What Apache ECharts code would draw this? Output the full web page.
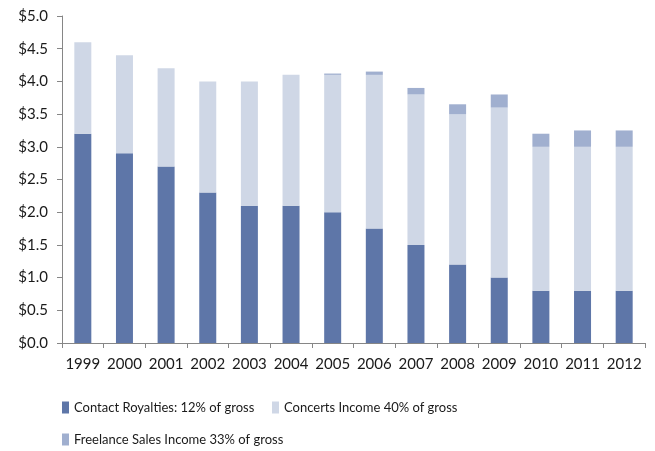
<!DOCTYPE html>
<html><head><meta charset="utf-8">
<script src="https://cdn.jsdelivr.net/npm/echarts@6/dist/echarts.min.js"></script>
<style>html,body{margin:0;padding:0;background:#fff}#c{width:655px;height:451px}</style>
</head><body><div id="c"></div>
<script>
const years = ['1999','2000','2001','2002','2003','2004','2005','2006','2007','2008','2009','2010','2011','2012'];
const royalties = [3.2, 2.9, 2.7, 2.3, 2.1, 2.1, 2.0, 1.75, 1.5, 1.2, 1.0, 0.8, 0.8, 0.8];
const concerts = [1.4, 1.5, 1.5, 1.7, 1.9, 2.0, 2.1, 2.35, 2.3, 2.3, 2.6, 2.2, 2.2, 2.2];
const freelance = [0, 0, 0, 0, 0, 0, 0.02, 0.05, 0.1, 0.15, 0.2, 0.2, 0.25, 0.25];
const names = ['Contact Royalties: 12% of gross', 'Concerts Income 40% of gross', 'Freelance Sales Income 33% of gross'];
const yTicks = [0, 0.5, 1, 1.5, 2, 2.5, 3, 3.5, 4, 4.5, 5];

const font = 'Lato, sans-serif';
const chart = echarts.init(document.getElementById('c'));
const legendText = {fontFamily: font, fontSize: 13, color: '#1a1a1a'};
const legendBase = {icon: 'rect', itemWidth: 7, itemHeight: 12, itemStyle: {borderWidth: 0}, textStyle: legendText, padding: 0};
chart.setOption({
  animation: false,
  grid: {left: 62, right: 10, top: 16, bottom: 108, containLabel: false},
  legend: [
    Object.assign({data: [names[0]], left: 62, top: 401}, legendBase),
    Object.assign({data: [names[1]], left: 272, top: 401}, legendBase),
    Object.assign({data: [names[2]], left: 62, top: 433}, legendBase)
  ],
  xAxis: {
    type: 'category', data: years,
    axisLine: {lineStyle: {color: '#868686'}},
    axisTick: {show: true, length: 5, interval: 0, lineStyle: {color: '#868686'}},
    axisLabel: {interval: 0, fontFamily: font, fontSize: 15, color: '#1a1a1a', margin: 14}
  },
  yAxis: {
    type: 'value', min: 0, max: 5, interval: 0.5,
    axisLine: {show: true, lineStyle: {color: '#868686'}},
    axisTick: {show: true, length: 5, lineStyle: {color: '#868686'}},
    splitLine: {show: false},
    axisLabel: {fontFamily: font, fontSize: 15, color: '#1a1a1a', margin: 14,
      formatter: v => '$' + v.toFixed(1)}
  },
  series: [
    {name: names[0], type: 'bar', stack: 's', data: royalties, barWidth: 17, itemStyle: {color: '#5E76A8'}},
    {name: names[1], type: 'bar', stack: 's', data: concerts, barWidth: 17, itemStyle: {color: '#CFD7E6'}},
    {name: names[2], type: 'bar', stack: 's', data: freelance, barWidth: 17, itemStyle: {color: '#A0AFCF'}}
  ]
});
</script></body></html>
